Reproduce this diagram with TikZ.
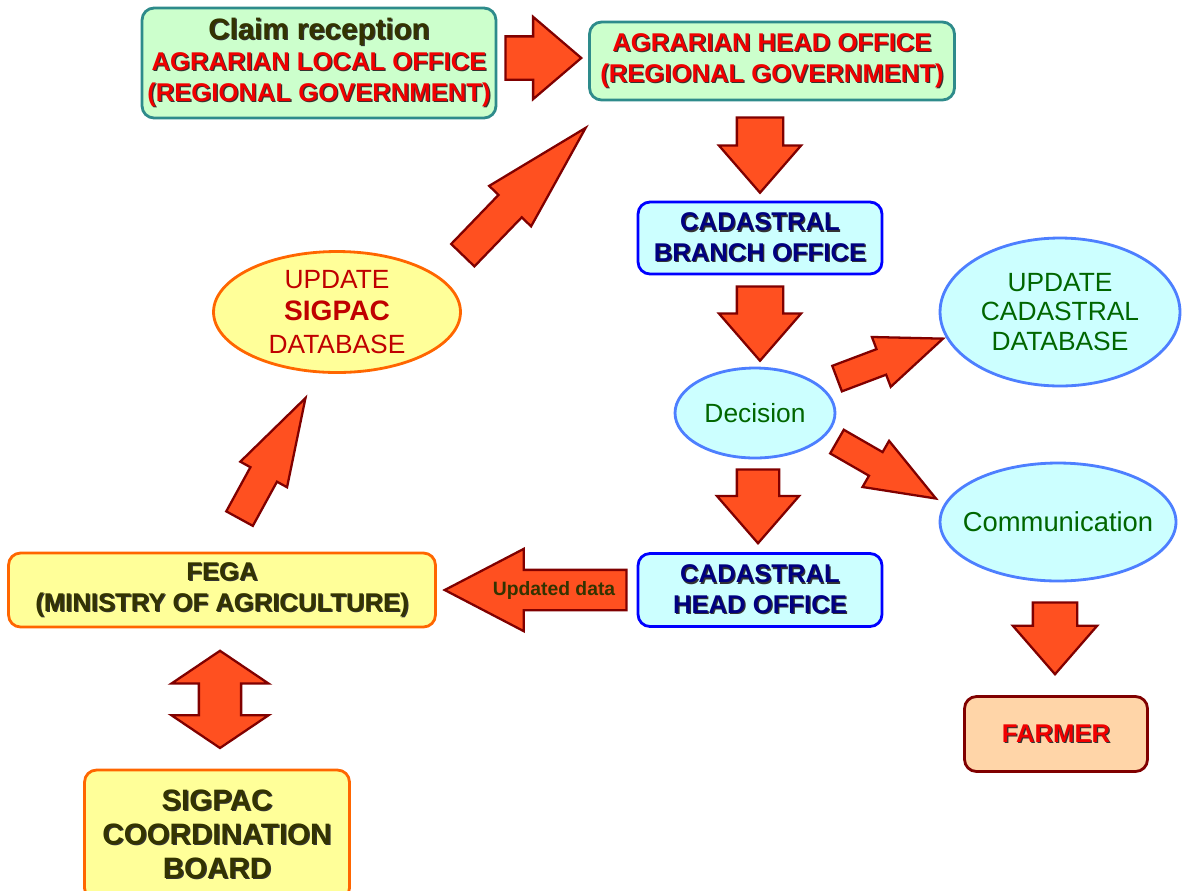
\documentclass[tikz,border=0pt]{standalone}
\usepackage{fontspec}
\setmainfont{Liberation Sans}
\usetikzlibrary{shapes.geometric,shapes.arrows,calc,positioning}

\definecolor{boxgreen}{HTML}{CCFFCC}
\definecolor{tealline}{HTML}{2E8B8B}
\definecolor{boxcyan}{HTML}{CCFFFF}
\definecolor{blueline}{HTML}{0000FF}
\definecolor{ovalline}{HTML}{4D7FFF}
\definecolor{navytext}{HTML}{000080}
\definecolor{boxyellow}{HTML}{FFFF99}
\definecolor{orangeline}{HTML}{FF6600}
\definecolor{peach}{HTML}{FFD5A8}
\definecolor{darkred}{HTML}{800000}
\definecolor{arrowfill}{HTML}{FF5020}
\definecolor{olivetext}{HTML}{333300}
\definecolor{greentext}{HTML}{006600}
\definecolor{redtext}{HTML}{F00000}
\definecolor{ovalred}{HTML}{C00000}

% text with a dark drop shadow
\newcommand{\shtxt}[2][black!80]{\rlap{\kern0.7pt\raisebox{-0.7pt}{\color{#1}#2}}#2}
% block arrow between two named points
\newcommand{\fatarrow}[4][]{%
  \path let \p1=($(#4)-(#3)$), \n1={atan2(\y1,\x1)}, \n2={veclen(\x1,\y1)} in
    node[fat arrow, minimum height=\n2, rotate=\n1, anchor=tail, #1] (#2) at (#3) {};}

\begin{document}
\begin{tikzpicture}[x=0.02cm, y=-0.02cm,
    green box/.style={rectangle, rounded corners=0.24cm, draw=tealline, line width=1.6pt,
      fill=boxgreen, align=center, inner sep=0pt, text=redtext,
      font=\bfseries\fontsize{14.6}{17.5}\selectfont},
    blue box/.style={green box, draw=blueline, fill=boxcyan, text=navytext},
    yellow box/.style={green box, draw=orangeline, fill=boxyellow, text=olivetext},
    blue oval/.style={ellipse, draw=ovalline, line width=1.6pt, fill=boxcyan, align=center,
      inner sep=0pt, text=greentext, font=\fontsize{15}{16.8}\selectfont},
    yellow oval/.style={blue oval, draw=orangeline, fill=boxyellow, text=ovalred},
    fat arrow/.style={single arrow, draw=darkred, fill=arrowfill, line width=1.3pt,
      inner xsep=0pt, inner ysep=0.42cm, minimum width=1.6cm, single arrow head extend=0.38cm,
      single arrow tip angle=82},
    thin arrow/.style={inner ysep=0.25cm, minimum width=1.02cm, single arrow head extend=0.26cm,
      single arrow tip angle=42}]

\fill[white] (0,0) rectangle (1182,890);
\useasboundingbox (0,0) rectangle (1182,890);

% boxes
\node[green box, minimum width=7.08cm, minimum height=2.2cm] (claim) at (319,63)
  {{\fontsize{16.8}{17.5}\selectfont\color{olivetext}\shtxt{Claim reception}}\\
   \shtxt{AGRARIAN LOCAL OFFICE}\\ \shtxt{(REGIONAL GOVERNMENT)}};
\node[green box, minimum width=7.3cm, minimum height=1.56cm] (agrhead) at (772,61)
  {\shtxt{AGRARIAN HEAD OFFICE}\\ \shtxt{(REGIONAL GOVERNMENT)}};
\node[blue box, minimum width=4.88cm, minimum height=1.44cm] (branch) at (760,238)
  {\shtxt{CADASTRAL}\\ \shtxt{BRANCH OFFICE}};
\node[blue box, minimum width=4.88cm, minimum height=1.46cm] (cadhead) at (760,590)
  {\shtxt{CADASTRAL}\\ \shtxt{HEAD OFFICE}};
\node[green box, draw=darkred, fill=peach, minimum width=3.66cm, minimum height=1.5cm] (farmer) at (1056,734)
  {\shtxt{FARMER}};
\node[yellow box, minimum width=8.54cm, minimum height=1.48cm] (fega) at (222,590)
  {\shtxt{FEGA}\\ \shtxt{(MINISTRY OF AGRICULTURE)}};
\node[yellow box, minimum width=5.3cm, minimum height=2.6cm,
      font=\bfseries\fontsize{16.8}{19.3}\selectfont] (board) at (217,835)
  {\shtxt{SIGPAC}\\ \shtxt{COORDINATION}\\ \shtxt{BOARD}};

% ovals
\node[blue oval, minimum width=3.2cm, minimum height=1.8cm] (decision) at (755,413) {Decision};
\node[blue oval, minimum width=4.8cm, minimum height=2.96cm] (updcad) at (1060,312)
  {UPDATE\\CADASTRAL\\DATABASE};
\node[blue oval, minimum width=4.72cm, minimum height=2.36cm, inner xsep=-8pt,
      font=\fontsize{15.6}{16.8}\selectfont] (comm) at (1058,522)
  {Communication};
\node[yellow oval, minimum width=4.94cm, minimum height=2.42cm, inner ysep=-6pt,
      font=\fontsize{15}{18.5}\selectfont] (updsig) at (337,312)
  {UPDATE\\{\bfseries\fontsize{16}{18.5}\selectfont SIGPAC}\\DATABASE};

% arrow ends
\coordinate (a1s) at ($(claim.east)+(7,-5)$);
\coordinate (a1e) at ($(agrhead.west)+(-8,-3)$);
\coordinate (a2s) at ($(agrhead.south -| branch)+(0,15)$);
\coordinate (a2e) at ($(branch.north)+(0,-9)$);
\coordinate (a3s) at ($(branch.south)+(0,10)$);
\coordinate (a3e) at ($(decision.north -| branch)+(0,-7)$);
\coordinate (a4s) at ($(decision.south)+(3,9)$);
\coordinate (a4e) at ($(cadhead.north)+(-2,-10)$);
\coordinate (a5s) at ($(comm.south)+(-3,19)$);
\coordinate (a5e) at ($(farmer.north)+(-1,-22)$);
\coordinate (a6s) at ($(decision)+(81,-34)$);
\coordinate (a6e) at ($(updcad)+(-118,27)$);
\coordinate (a7s) at ($(decision)+(81,28)$);
\coordinate (a7e) at ($(comm)+(-123,-24)$);
\coordinate (a8s) at ($(cadhead.west)+(-9,0)$);
\coordinate (a8e) at ($(fega.east)+(9,0)$);
\coordinate (a9s) at ($(fega.north)+(17,-32)$);
\coordinate (a9e) at ($(updsig.south)+(-32,25)$);
\coordinate (a10s) at ($(updsig)+(125,-56)$);
\coordinate (a10e) at ($(agrhead.south west)+(-3,27)$);
\coordinate (a11s) at ($(fega.south)+(-2,21)$);
\coordinate (a11e) at ($(board.north)+(3,-22)$);

% block arrows
\fatarrow[inner ysep=0.41cm, single arrow head extend=0.39cm, single arrow tip angle=81]{claimtohead}{a1s}{a1e}
\fatarrow[inner ysep=0.44cm, single arrow head extend=0.36cm]{headtobranch}{a2s}{a2e}
\fatarrow[inner ysep=0.44cm, single arrow head extend=0.36cm]{branchtodec}{a3s}{a3e}
\fatarrow[inner ysep=0.4cm, single arrow head extend=0.4cm]{dectocad}{a4s}{a4e}
\fatarrow[inner ysep=0.42cm, single arrow head extend=0.4cm]{commtofarmer}{a5s}{a5e}
\fatarrow[thin arrow, single arrow tip angle=44]{dectoupd}{a6s}{a6e}
\fatarrow[thin arrow]{dectocomm}{a7s}{a7e}
\fatarrow[inner ysep=0.38cm, single arrow head extend=0.42cm, single arrow tip angle=55]{cadtofega}{a8s}{a8e}
\fatarrow[thin arrow, inner ysep=0.28cm, single arrow head extend=0.23cm,
          single arrow tip angle=34]{fegatosig}{a9s}{a9e}
\fatarrow[thin arrow, inner ysep=0.3cm, single arrow head extend=0.26cm,
          single arrow tip angle=30]{sigtohead}{a10s}{a10e}
\fatarrow[double arrow, anchor=tip 2, inner ysep=0.4cm, double arrow head extend=0.55cm,
          double arrow tip angle=112]{fegaboard}{a11s}{a11e}

\node[font=\bfseries\fontsize{11}{13}\selectfont, text=olivetext] (updlabel) at (554,590)
  {Updated data};

\end{tikzpicture}
\end{document}
